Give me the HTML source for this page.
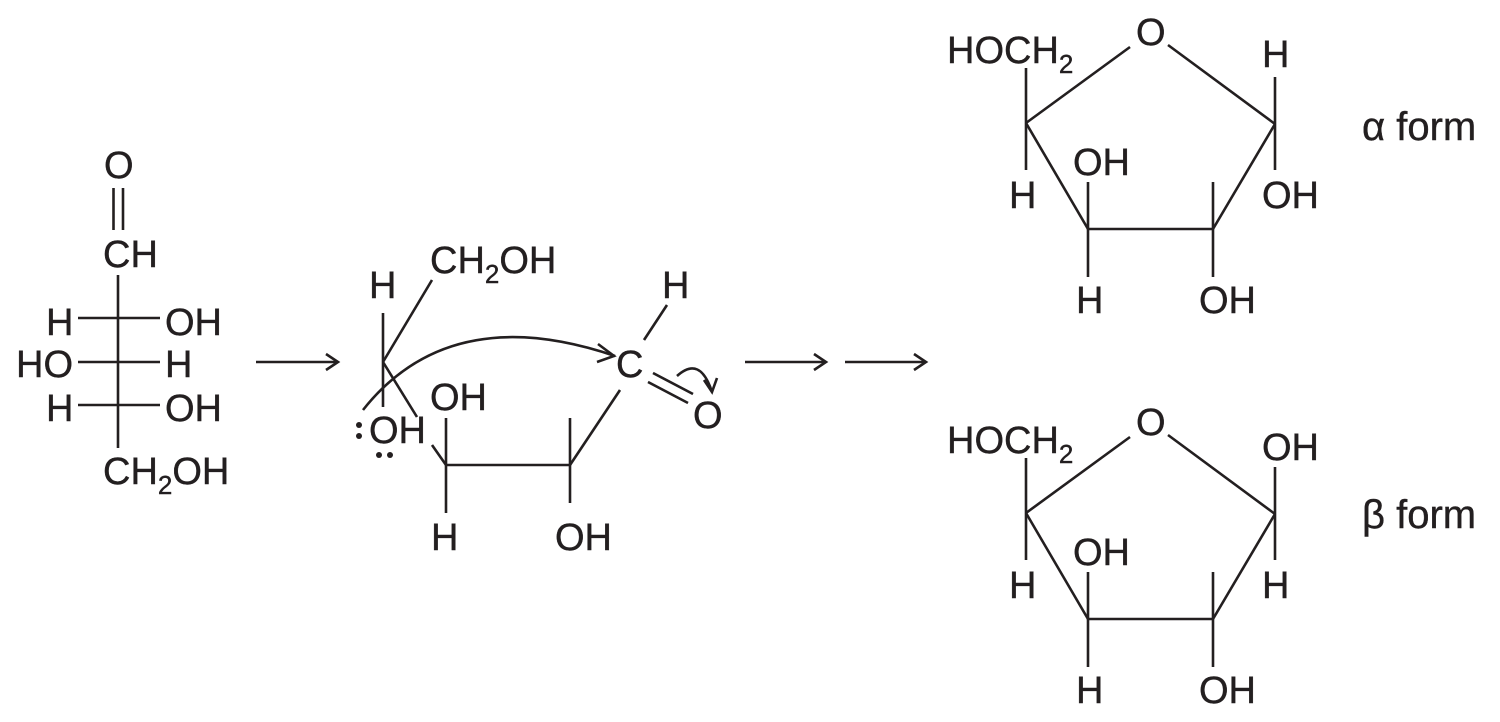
<!DOCTYPE html>
<html><head><meta charset="utf-8"><style>
html,body{margin:0;padding:0;background:#fff;}
svg{display:block;}
text{font-family:"Liberation Sans","DejaVu Sans",sans-serif;font-size:38px;fill:#231f20;stroke:#231f20;stroke-width:0.4;}
.s{font-size:26px;}
.f{font-size:40px;}
</style></head><body>
<svg width="1500" height="722" viewBox="0 0 1500 722" xmlns="http://www.w3.org/2000/svg">
<g stroke="#231f20" stroke-width="2.6" fill="none">
<line x1="113.5" y1="188" x2="113.5" y2="230"/><line x1="123" y1="188" x2="123" y2="230"/>
<line x1="118" y1="275" x2="118" y2="448"/>
<line x1="78" y1="318" x2="160" y2="318"/>
<line x1="78" y1="362" x2="160" y2="362"/>
<line x1="78" y1="405" x2="160" y2="405"/>
<line x1="256" y1="362" x2="337" y2="362"/><polyline points="326,354 338,362 326,370"/>
<line x1="745" y1="362" x2="825" y2="362"/><polyline points="814,354 826,362 814,370"/>
<line x1="845" y1="362" x2="925" y2="362"/><polyline points="914,354 926,362 914,370"/>
<line x1="383" y1="313" x2="383" y2="407"/>
<line x1="383" y1="362" x2="432" y2="280"/>
<line x1="383" y1="362" x2="417" y2="417"/>
<path d="M363,410 Q450,300 615,356"/>
<polyline points="598,344 614,356 597,362"/>
<line x1="432" y1="445" x2="446" y2="465"/>
<line x1="446" y1="465" x2="570" y2="465"/>
<line x1="446" y1="418" x2="446" y2="513"/>
<line x1="570" y1="418" x2="570" y2="503"/>
<line x1="570" y1="465" x2="620" y2="390"/>
<line x1="644" y1="340" x2="667" y2="305"/>
<line x1="653" y1="373" x2="693" y2="394"/>
<line x1="648" y1="382" x2="688" y2="403"/>
<path d="M677,376 Q700,355 712,392"/>
<polyline points="704,380 712,392 717,378"/>
<g id="r">
<line x1="1026" y1="123" x2="1130" y2="47"/>
<line x1="1168" y1="45" x2="1275" y2="124"/>
<line x1="1026" y1="123" x2="1088" y2="229"/>
<line x1="1088" y1="229" x2="1213" y2="229"/>
<line x1="1213" y1="229" x2="1275" y2="124"/>
<line x1="1026" y1="68" x2="1026" y2="170"/>
<line x1="1088" y1="182" x2="1088" y2="277"/>
<line x1="1213" y1="182" x2="1213" y2="277"/>
<line x1="1275" y1="77" x2="1275" y2="170"/>
</g>
<use href="#r" transform="translate(0,390)"/>
</g>
<text x="104" y="178">O</text>
<text x="103" y="267">CH</text>
<text x="46" y="335">H</text><text x="165" y="335">OH</text>
<text x="16" y="377">HO</text><text x="165" y="377">H</text>
<text x="46" y="421">H</text><text x="165" y="421">OH</text>
<text x="103" y="484">CH<tspan class="s" dy="10">2</tspan><tspan dy="-10">OH</tspan></text>
<text x="369" y="298">H</text>
<text x="430" y="273">CH<tspan class="s" dy="10">2</tspan><tspan dy="-10">OH</tspan></text>
<text x="369" y="443">OH</text>
<circle cx="359" cy="425" r="3" fill="#231f20"/><circle cx="359" cy="436" r="3" fill="#231f20"/>
<circle cx="379" cy="455" r="3" fill="#231f20"/><circle cx="390" cy="455" r="3" fill="#231f20"/>
<text x="430" y="410">OH</text>
<text x="431" y="550">H</text>
<text x="555" y="550">OH</text>
<text x="616" y="377">C</text>
<text x="662" y="298">H</text>
<text x="693" y="428">O</text>
<text x="947" y="63">HOCH<tspan class="s" dy="10">2</tspan></text>
<text x="1136" y="45">O</text>
<text x="1262" y="67">H</text>
<text x="1009" y="208">H</text>
<text x="1073" y="175">OH</text>
<text x="1262" y="208">OH</text>
<text x="1076" y="313">H</text>
<text x="1199" y="313">OH</text>
<text class="f" x="1362" y="140">α form</text>
<text x="947" y="453">HOCH<tspan class="s" dy="10">2</tspan></text>
<text x="1136" y="435">O</text>
<text x="1262" y="460">OH</text>
<text x="1009" y="598">H</text>
<text x="1073" y="565">OH</text>
<text x="1262" y="598">H</text>
<text x="1076" y="703">H</text>
<text x="1199" y="703">OH</text>
<text class="f" x="1362" y="528">β form</text>
</svg>
</body></html>
